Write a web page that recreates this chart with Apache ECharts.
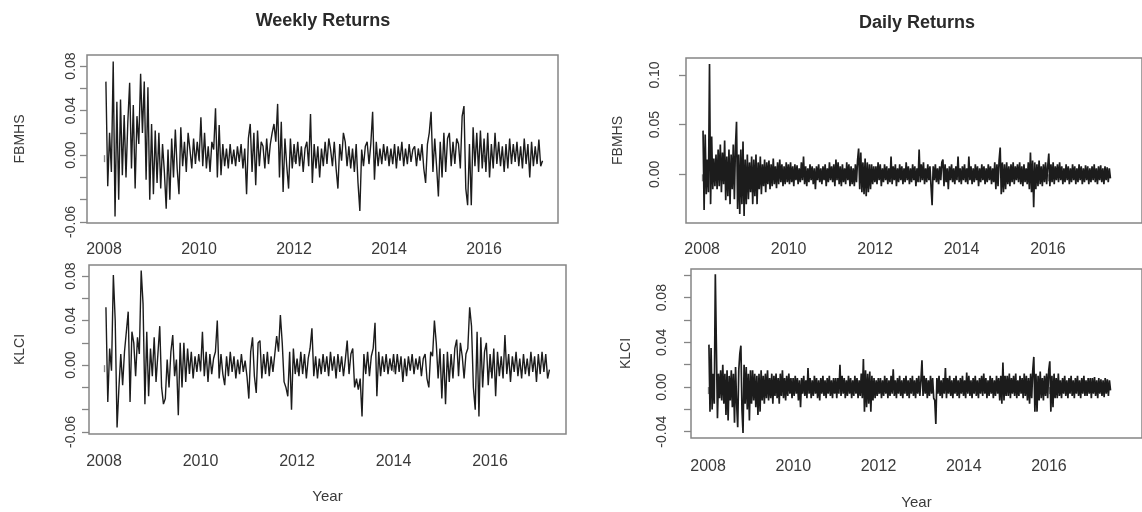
<!DOCTYPE html>
<html>
<head>
<meta charset="utf-8">
<title>Weekly and Daily Returns</title>
<script src="https://cdn.jsdelivr.net/npm/echarts@6.0.0/dist/echarts.min.js"></script>
<style>
  html, body { margin: 0; padding: 0; background: #fff; }
  #chart { width: 1142px; height: 512px; }
</style>
</head>
<body>
<div id="chart"></div>
<script>
// weekly returns, one value every two weeks from early 2008
const WEEKLY_START = 2008.04;
const WEEKLY_STEP = 1 / 26;
const weeklyFbmhs = [
  0.066, -0.028, 0.02, -0.015, 0.084, -0.055, 0.048, -0.04, 0.05, -0.018, 0.036, -0.02, 0.03, 0.065, -0.012, 0.045, -0.03, 0.035, 0.01, 0.073, 0.02, 0.066, -0.022, 0.061, -0.04, 0.028,
  -0.035, 0.022, -0.025, 0.02, -0.03, 0.01, -0.015, -0.048, 0.005, -0.04, 0.015, -0.02, 0.023, -0.012, -0.035, 0.025, -0.01, 0.012, -0.015, 0.02, 0.005, -0.012, 0.015, -0.008, 0.012, -0.005,
  0.034, -0.01, 0.02, -0.012, 0.008, -0.015, 0.012, 0.005, 0.042, -0.02, 0.027, -0.018, 0.01, -0.01, 0.006, -0.012, 0.01, -0.008, 0.005, -0.01, 0.008, -0.006, 0.01, -0.012, 0.006, -0.035,
  0.015, 0.028, -0.015, 0.02, -0.027, 0.022, -0.01, 0.012, 0.008, -0.012, 0.015, -0.008, 0.01, 0.02, 0.028, 0.012, 0.046, -0.02, 0.03, -0.033, 0.015, -0.01, -0.03, 0.015, -0.012, 0.01,
  -0.008, 0.012, -0.01, 0.008, -0.015, 0.006, 0.012, -0.01, 0.037, -0.025, 0.01, -0.012, 0.008, -0.02, 0.006, -0.01, 0.012, -0.008, 0.015, 0.005, -0.01, 0.012, -0.012, -0.03, 0.01, -0.005,
  0.02, 0.012, -0.01, 0.008, -0.012, 0.006, -0.015, 0.01, -0.025, -0.05, 0.005, -0.01, 0.008, 0.012, -0.008, 0.01, 0.039, -0.022, 0.012, -0.01, 0.006, -0.008, 0.01, -0.005, 0.008, -0.01,
  0.006, -0.008, 0.01, -0.012, 0.008, -0.005, 0.012, -0.01, 0.006, -0.008, 0.01, -0.006, 0.005, 0.008, -0.01, 0.006, -0.005, 0.01, -0.012, -0.025, 0.01, 0.02, 0.039, -0.015, 0.015, -0.01,
  -0.037, 0.012, -0.02, 0.02, -0.015, 0.015, 0.02, -0.01, 0.012, -0.008, 0.015, 0.01, -0.012, 0.035, 0.044, -0.03, -0.045, 0.01, -0.045, 0.025, -0.01, 0.02, -0.015, 0.022, -0.012, 0.015,
  -0.015, 0.02, -0.02, 0.01, -0.012, 0.02, -0.008, 0.012, -0.01, 0.008, -0.015, 0.01, -0.012, 0.015, -0.008, 0.01, -0.006, 0.012, -0.01, 0.008, -0.012, 0.015, -0.008, 0.01, -0.02, 0.012,
  -0.01, 0.008, -0.008, 0.014, -0.01, -0.005
];
const weeklyKlci = [
  0.052, -0.033, 0.015, -0.005, 0.081, 0.04, -0.056, -0.02, 0.01, -0.018, 0.012, 0.03, 0.048, -0.033, 0.03, 0.02, -0.01, 0.025, 0.01, 0.085, 0.055, -0.035, 0.03, -0.028, 0.015, -0.01,
  0.025, -0.015, 0.01, 0.035, -0.02, -0.035, -0.03, 0.005, -0.02, 0.012, 0.027, -0.01, 0.005, -0.045, 0.02, -0.02, 0.02, -0.015, 0.015, -0.008, 0.012, -0.012, 0.008, -0.006, 0.01, -0.005,
  0.03, -0.01, 0.012, -0.015, 0.01, -0.008, 0.006, 0.012, 0.04, -0.012, 0.01, -0.008, -0.018, 0.008, -0.01, 0.012, -0.006, 0.008, -0.012, 0.005, -0.008, 0.01, -0.006, 0.004, -0.01, -0.03,
  0.012, 0.025, -0.01, -0.025, 0.02, 0.022, -0.012, 0.01, -0.008, 0.012, -0.01, 0.008, -0.006, 0.01, 0.026, 0.012, 0.045, 0.02, -0.015, -0.02, -0.028, 0.012, -0.04, 0.015, -0.008, 0.006,
  -0.01, 0.012, -0.008, 0.01, -0.012, 0.006, 0.015, 0.033, -0.01, 0.008, -0.012, 0.006, -0.008, 0.01, -0.006, 0.008, -0.01, 0.012, -0.005, 0.008, -0.012, 0.01, -0.006, 0.008, -0.01, 0.005,
  0.022, -0.008, 0.01, 0.015, -0.02, -0.012, -0.022, -0.012, -0.046, 0.01, -0.008, 0.012, -0.01, 0.008, 0.015, 0.038, -0.028, 0.012, -0.01, 0.008, -0.006, 0.01, -0.008, 0.006, -0.005, 0.01,
  -0.008, 0.01, -0.006, 0.008, -0.015, 0.006, -0.01, 0.008, -0.005, 0.01, -0.008, 0.006, -0.004, 0.008, -0.01, 0.006, 0.01, -0.012, -0.02, 0.012, 0.008, 0.04, 0.02, -0.012, 0.015, -0.03,
  0.01, -0.035, 0.012, -0.015, 0.01, -0.012, 0.015, 0.023, -0.01, 0.02, 0.008, -0.012, 0.01, 0.015, 0.052, 0.035, -0.02, -0.04, 0.03, -0.046, 0.025, -0.02, 0.012, 0.02, -0.018, 0.01,
  -0.012, 0.015, -0.028, 0.012, -0.01, 0.008, -0.012, 0.027, -0.008, 0.01, -0.015, 0.008, -0.006, 0.012, -0.01, 0.006, -0.012, 0.01, -0.008, 0.006, -0.01, 0.012, -0.006, 0.008, -0.015, 0.01,
  -0.008, 0.012, -0.006, 0.01, -0.012, -0.004
];

// daily returns (40 readings per year)
const DAILY_START = 2008.02;
const DAILY_STEP = 1 / 40;
const dailyFbmhs = [
  0.044, -0.036, 0.04, -0.02, 0.015, -0.018, 0.111, -0.03, 0.038, -0.015, 0.016, -0.012, 0.02, -0.015, 0.025, -0.012, 0.03, -0.018, 0.022, -0.01, 0.034, -0.026, 0.018, -0.022, 0.025, -0.03, 0.02, -0.015, 0.03, -0.025, 0.028, 0.053, -0.035, 0.02, -0.04, 0.025, -0.03, 0.033, -0.042, 0.015,
  -0.03, 0.02, -0.025, 0.012, -0.018, 0.018, -0.03, 0.015, -0.022, 0.02, -0.03, 0.012, -0.015, 0.018, -0.02, 0.01, -0.012, 0.015, -0.018, 0.012, -0.01, 0.014, -0.015, 0.01, -0.012, 0.016, -0.01, 0.008, -0.014, 0.012, -0.01, 0.015, -0.008, 0.01, -0.012, 0.008, -0.01, 0.012, -0.008, 0.01,
  -0.01, 0.012, -0.008, 0.008, -0.012, 0.01, -0.006, 0.009, -0.01, 0.006, -0.008, 0.012, -0.006, 0.018, -0.01, 0.008, -0.012, 0.006, -0.008, 0.01, -0.006, 0.008, -0.01, 0.006, -0.015, 0.008, -0.006, 0.01, -0.008, 0.006, -0.01, 0.008, -0.006, 0.01, -0.012, 0.006, -0.008, 0.012, -0.006, 0.008,
  -0.008, 0.01, -0.012, 0.015, -0.006, 0.012, -0.01, 0.008, -0.012, 0.01, -0.008, 0.006, -0.01, 0.012, -0.006, 0.01, -0.012, 0.008, -0.01, 0.006, -0.012, 0.01, -0.008, 0.014, 0.026, -0.015, 0.022, -0.018, 0.012, -0.02, 0.016, -0.022, 0.012, -0.018, 0.01, -0.015, 0.01, -0.01, 0.008, -0.008,
  0.008, -0.01, 0.012, -0.006, 0.01, -0.012, 0.006, -0.008, 0.01, -0.006, 0.008, -0.01, 0.006, -0.008, 0.018, -0.01, 0.008, -0.006, 0.01, -0.012, 0.006, -0.008, 0.01, -0.006, 0.008, -0.01, 0.006, -0.008, 0.012, -0.006, 0.008, -0.01, 0.006, -0.008, 0.01, -0.006, 0.008, -0.012, 0.006, -0.008,
  0.025, -0.008, 0.01, -0.006, 0.012, -0.01, 0.006, -0.008, 0.01, -0.006, 0.008, -0.012, -0.031, 0.008, -0.006, 0.01, -0.008, 0.006, -0.01, 0.008, -0.006, 0.012, 0.015, -0.012, 0.01, -0.008, 0.006, -0.015, 0.008, -0.006, 0.01, -0.008, 0.006, -0.01, 0.008, -0.006, 0.018, -0.008, 0.006, -0.01,
  0.008, -0.006, 0.01, -0.008, 0.006, -0.01, 0.018, -0.006, 0.008, -0.01, 0.006, -0.008, 0.01, -0.006, 0.008, -0.012, 0.006, -0.008, 0.01, -0.006, 0.008, -0.01, 0.006, -0.008, 0.01, -0.006, 0.008, -0.01, 0.006, -0.008, 0.012, -0.015, 0.01, -0.012, 0.014, 0.027, -0.02, 0.012, -0.018, 0.01,
  -0.015, 0.012, -0.01, 0.008, -0.012, 0.01, -0.008, 0.012, -0.01, 0.008, -0.006, 0.01, -0.008, 0.012, -0.01, 0.008, -0.012, 0.01, -0.008, 0.006, -0.01, 0.012, -0.015, 0.022, -0.018, 0.014, -0.033, 0.012, -0.015, 0.01, -0.012, 0.014, -0.01, 0.008, -0.012, 0.01, -0.008, 0.012, -0.01, 0.008,
  0.021, -0.012, 0.01, -0.008, 0.012, -0.01, 0.008, -0.006, 0.01, -0.008, 0.012, -0.006, 0.008, -0.01, 0.006, -0.008, 0.01, -0.006, 0.008, -0.01, 0.006, -0.008, 0.01, -0.006, 0.008, -0.01, 0.006, -0.008, 0.01, -0.006, 0.008, -0.01, 0.006, -0.008, 0.009, -0.006, 0.008, -0.01, 0.006, -0.008,
  0.008, -0.006, 0.01, -0.008, 0.006, -0.01, 0.008, -0.006, 0.009, -0.008, 0.006, -0.01, 0.008, -0.006, 0.007, -0.008, 0.006, -0.004
];
const dailyKlci = [
  0.038, -0.022, 0.035, -0.02, 0.012, -0.015, 0.101, 0.035, -0.028, 0.012, -0.01, 0.015, -0.012, 0.02, -0.015, 0.012, -0.025, 0.015, -0.03, 0.01, -0.012, 0.015, -0.018, 0.012, -0.032, 0.018, -0.015, -0.036, 0.015, 0.03, 0.037, -0.02, -0.041, 0.02, -0.015, 0.018, -0.02, 0.012, -0.03, 0.015,
  -0.015, 0.015, -0.012, 0.012, -0.018, 0.01, -0.025, 0.012, -0.022, 0.015, -0.012, 0.01, -0.015, 0.012, -0.01, 0.015, -0.012, 0.008, -0.01, 0.012, -0.015, 0.01, -0.008, 0.012, -0.01, 0.008, -0.015, 0.012, -0.008, 0.015, -0.01, 0.008, -0.012, 0.01, -0.008, 0.012, -0.006, 0.008, -0.01, 0.008,
  -0.008, 0.01, -0.006, 0.008, -0.012, 0.006, -0.018, 0.008, -0.006, 0.01, -0.008, 0.006, -0.01, 0.017, -0.006, 0.008, -0.01, 0.006, -0.008, 0.01, -0.006, 0.008, -0.01, 0.006, -0.012, 0.008, -0.006, 0.01, -0.008, 0.006, -0.01, 0.008, -0.006, 0.01, -0.008, 0.006, -0.01, 0.008, -0.006, 0.008,
  -0.01, 0.008, -0.006, 0.02, -0.008, 0.01, -0.006, 0.008, -0.01, 0.006, -0.008, 0.01, -0.006, 0.008, -0.01, 0.006, -0.008, 0.01, -0.006, 0.008, -0.01, 0.006, -0.008, 0.012, -0.01, 0.025, -0.022, 0.015, -0.018, 0.012, -0.015, 0.014, -0.022, 0.01, -0.012, 0.008, -0.01, 0.006, -0.008, 0.008,
  -0.006, 0.008, -0.01, 0.006, -0.008, 0.01, -0.006, 0.008, -0.01, 0.006, -0.008, 0.01, -0.006, 0.016, -0.008, 0.006, -0.01, 0.008, -0.006, 0.01, -0.008, 0.006, -0.01, 0.008, -0.006, 0.01, -0.008, 0.006, -0.01, 0.008, -0.006, 0.01, -0.008, 0.006, -0.01, 0.008, -0.006, 0.01, -0.008, 0.006,
  0.024, -0.008, 0.01, -0.006, 0.008, -0.01, 0.006, -0.008, 0.01, -0.006, 0.008, -0.01, -0.012, -0.033, 0.008, -0.006, 0.01, -0.008, 0.006, -0.01, 0.008, -0.006, 0.017, -0.01, 0.008, -0.006, 0.01, -0.008, 0.006, -0.01, 0.008, -0.006, 0.01, -0.008, 0.006, -0.01, 0.008, -0.006, 0.01, -0.008,
  0.006, -0.01, 0.013, -0.006, 0.01, -0.008, 0.006, -0.01, 0.008, -0.006, 0.01, -0.008, 0.006, -0.01, 0.008, -0.006, 0.01, -0.008, 0.012, -0.006, 0.008, -0.01, 0.006, -0.008, 0.01, -0.006, 0.008, -0.01, 0.006, -0.008, 0.01, -0.006, 0.008, -0.012, 0.01, -0.015, 0.022, -0.012, 0.01, -0.008,
  0.01, -0.008, 0.012, -0.01, 0.008, -0.006, 0.01, -0.008, 0.012, -0.01, 0.006, -0.008, 0.01, -0.006, 0.008, -0.01, 0.012, -0.008, 0.01, -0.012, 0.008, -0.015, 0.012, -0.01, 0.015, 0.027, -0.022, 0.012, -0.022, 0.01, -0.012, 0.014, -0.01, 0.008, -0.012, 0.01, -0.008, 0.012, -0.01, 0.015,
  0.023, -0.022, 0.01, -0.018, 0.012, -0.01, 0.008, -0.01, 0.012, -0.008, 0.006, -0.01, 0.008, -0.006, 0.01, -0.008, 0.006, -0.01, 0.008, -0.006, 0.01, -0.008, 0.006, -0.01, 0.008, -0.006, 0.01, -0.008, 0.006, -0.01, 0.008, -0.006, 0.01, -0.008, 0.006, -0.008, 0.008, -0.006, 0.008, -0.01,
  0.008, -0.006, 0.009, -0.008, 0.006, -0.01, 0.008, -0.006, 0.007, -0.008, 0.006, -0.009, 0.008, -0.006, 0.007, -0.008, 0.006, -0.003
];

// tick positions and which ticks get a label (R drops the crowded ones)
const yearTicks = [2008, 2010, 2012, 2014, 2016];
const weeklyTicks = [-0.06, -0.04, -0.02, 0, 0.02, 0.04, 0.06, 0.08];
const weeklyLabels = [-0.06, 0, 0.04, 0.08];
const dailyFbmhsTicks = [0, 0.05, 0.1];
const dailyKlciTicks = [-0.04, -0.02, 0, 0.02, 0.04, 0.06, 0.08, 0.1];
const dailyKlciLabels = [-0.04, 0, 0.04, 0.08];

const FONT = "'Liberation Sans', Arial, sans-serif";
const TEXT = '#3a3a3a';
const BOX = '#858585';

const toPairs = (values, start, step) => values.map((v, i) => [start + i * step, v]);

const xAxisFor = (grid, min, max, margin, name) => ({
  gridIndex: grid,
  type: 'value',
  min: min,
  max: max,
  name: name || '',
  nameLocation: 'middle',
  nameGap: name ? (grid === 1 ? 55 : 57) : 0,
  nameTextStyle: { fontFamily: FONT, fontSize: 15, color: TEXT },
  axisLine: { show: false },
  splitLine: { show: false },
  axisTick: { show: true, length: 7, customValues: yearTicks, lineStyle: { color: BOX, width: 1.3 } },
  axisLabel: {
    customValues: yearTicks,
    margin: margin,
    fontFamily: FONT,
    fontSize: 16,
    color: TEXT,
    formatter: v => String(v)
  }
});

const yAxisFor = (grid, min, max, ticks, labels, margin, name, nameGap) => ({
  gridIndex: grid,
  type: 'value',
  min: min,
  max: max,
  name: name,
  nameLocation: 'middle',
  nameRotate: 90,
  nameGap: nameGap,
  nameTextStyle: { fontFamily: FONT, fontSize: 14, color: TEXT },
  axisLine: { show: false },
  splitLine: { show: false },
  axisTick: { show: true, length: 7, customValues: ticks, lineStyle: { color: BOX, width: 1.3 } },
  axisLabel: {
    customValues: labels,
    rotate: 90,
    margin: margin,
    fontFamily: FONT,
    fontSize: 14,
    color: TEXT,
    formatter: v => v.toFixed(2)
  }
});

const lineSeries = (idx, data, width) => ({
  type: 'line',
  xAxisIndex: idx,
  yAxisIndex: idx,
  data: data,
  showSymbol: false,
  symbol: 'none',
  animation: false,
  lineStyle: { color: '#1c1c1c', width: width }
});

const gridBox = (left, top, width, height) => ({
  left: left, top: top, width: width, height: height,
  show: true, borderColor: BOX, borderWidth: 1.5, backgroundColor: 'transparent'
});

const myChart = echarts.init(document.getElementById('chart'), null, { renderer: 'canvas' });

myChart.setOption({
  backgroundColor: '#ffffff',
  animation: false,
  graphic: {
    elements: [
      { type: 'text', x: 323, y: 21, style: { text: 'Weekly Returns', textAlign: 'center', textVerticalAlign: 'middle', font: 'bold 18px ' + FONT, fill: '#2a2a2a' } },
      { type: 'text', x: 917, y: 23, style: { text: 'Daily Returns', textAlign: 'center', textVerticalAlign: 'middle', font: 'bold 18px ' + FONT, fill: '#2a2a2a' } }
    ]
  },
  grid: [
    gridBox(87, 55, 471, 168),
    gridBox(89, 265, 477, 169),
    gridBox(686, 58, 480, 165),
    gridBox(691, 269, 475, 169)
  ],
  xAxis: [
    xAxisFor(0, 2007.642, 2017.558, 19),
    xAxisFor(1, 2007.689, 2017.575, 20, 'Year'),
    xAxisFor(2, 2007.626, 2018.176, 19),
    xAxisFor(3, 2007.599, 2018.184, 21, 'Year')
  ],
  yAxis: [
    yAxisFor(0, -0.0609, 0.0899, weeklyTicks, weeklyLabels, 9, 'FBMHS', 60),
    yAxisFor(1, -0.0618, 0.0899, weeklyTicks, weeklyLabels, 11, 'KLCI', 62),
    yAxisFor(2, -0.049, 0.1171, dailyFbmhsTicks, dailyFbmhsTicks, 24, 'FBMHS', 61),
    yAxisFor(3, -0.0456, 0.1057, dailyKlciTicks, dailyKlciLabels, 22, 'KLCI', 58)
  ],
  series: [
    lineSeries(0, toPairs(weeklyFbmhs, WEEKLY_START, WEEKLY_STEP), 1.4),
    lineSeries(1, toPairs(weeklyKlci, WEEKLY_START, WEEKLY_STEP), 1.4),
    lineSeries(2, toPairs(dailyFbmhs, DAILY_START, DAILY_STEP), 1.7),
    lineSeries(3, toPairs(dailyKlci, DAILY_START, DAILY_STEP), 1.7)
  ]
});
</script>
</body>
</html>
